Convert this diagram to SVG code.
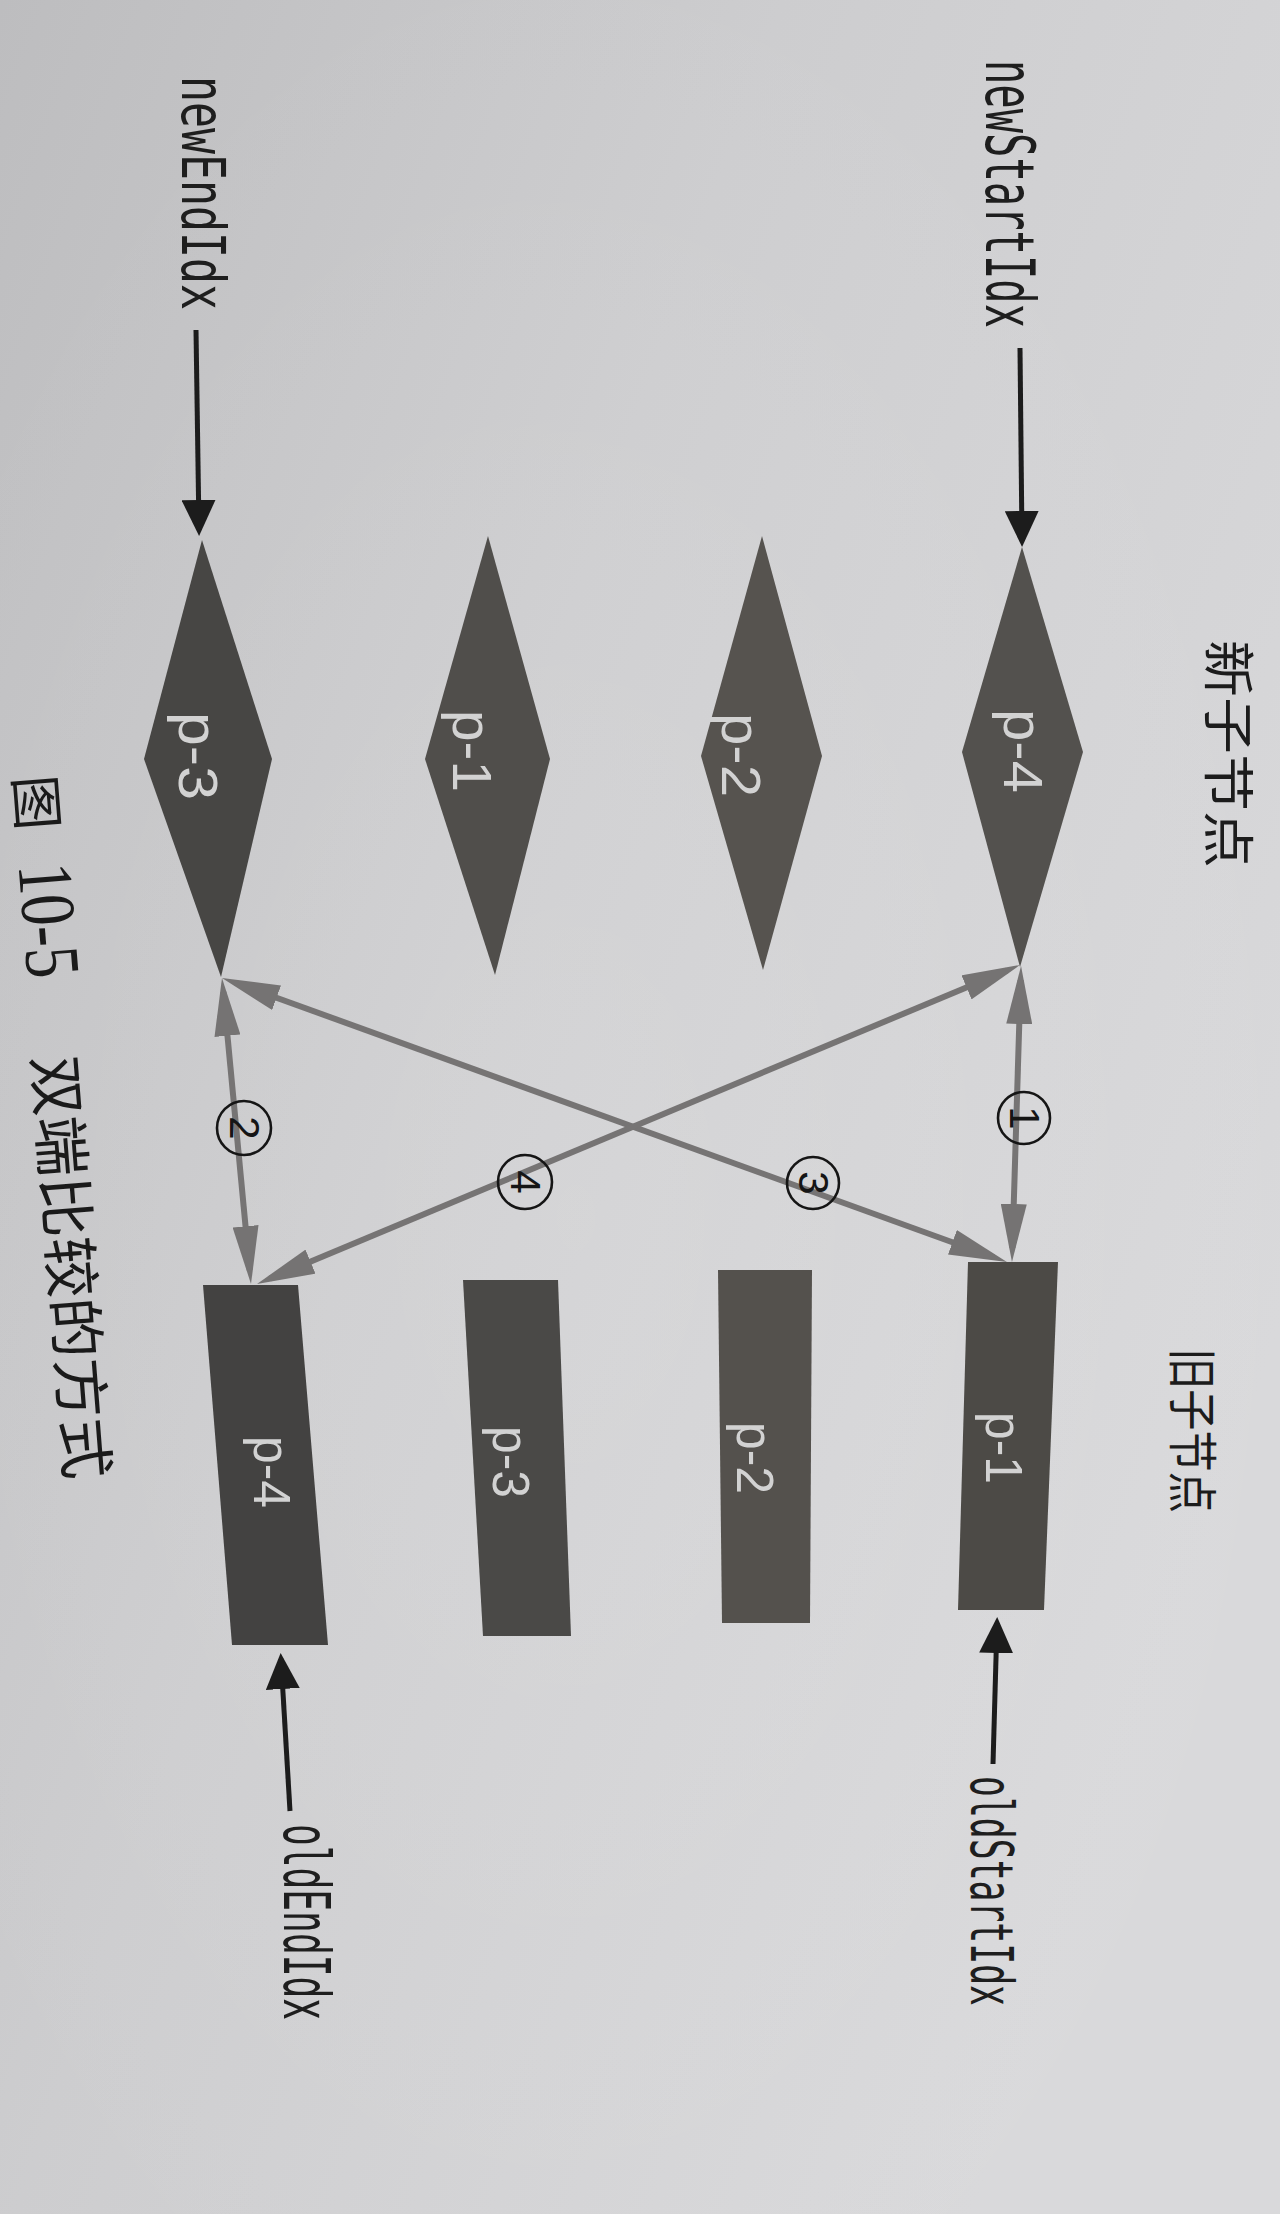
<svg xmlns="http://www.w3.org/2000/svg" width="1280" height="2214" viewBox="0 0 1280 2214">
<defs>
  <linearGradient id="bg" x1="0" y1="0" x2="1" y2="0.6">
    <stop offset="0" stop-color="#bdbdbf"/>
    <stop offset="0.45" stop-color="#cdcdcf"/>
    <stop offset="1" stop-color="#d9d9db"/>
  </linearGradient>
  <radialGradient id="glow" cx="0.45" cy="0.55" r="0.6">
    <stop offset="0" stop-color="#ffffff" stop-opacity="0.12"/>
    <stop offset="1" stop-color="#ffffff" stop-opacity="0"/>
  </radialGradient>
  <marker id="gh" viewBox="0 0 58 26" refX="44" refY="13" markerWidth="58" markerHeight="26" markerUnits="userSpaceOnUse" orient="auto-start-reverse">
    <path d="M0,0 L58,13 L0,26 Z" fill="#757373"/>
  </marker>
  <marker id="bh" viewBox="0 0 36 34" refX="30" refY="17" markerWidth="36" markerHeight="34" markerUnits="userSpaceOnUse" orient="auto">
    <path d="M0,0 L36,17 L0,34 Z" fill="#1c1c1c"/>
  </marker>
  <style>
    .dia { stroke: none; }
    .lbl { font-family: "Liberation Sans", Arial, sans-serif; fill: #d2d2d2; text-anchor: middle; }
    .mono { font-family: "DejaVu Sans Mono", "Liberation Mono", monospace; fill: #1e1e1e; }
    .cjk { font-family: "Noto Sans CJK SC", sans-serif; fill: #1c1c1c; dominant-baseline: central; }
    .cap { font-family: "Noto Sans CJK SC", sans-serif; fill: #1a1a1a; dominant-baseline: central; }
    .capn { font-family: "Liberation Serif", "Times New Roman", serif; fill: #1a1a1a; dominant-baseline: central; }
    .conn { stroke: #767474; stroke-width: 6; fill: none; marker-start: url(#gh); marker-end: url(#gh); }
    .ptr { stroke: #1c1c1c; stroke-width: 5; fill: none; marker-end: url(#bh); }
    .ring { fill: none; stroke: #151515; stroke-width: 2.6; }
    .num { font-family: "Liberation Sans", Arial, sans-serif; font-size: 42px; fill: #151515; text-anchor: middle; dominant-baseline: central; }
  </style>
</defs>

<rect x="0" y="0" width="1280" height="2214" fill="url(#bg)"/>
<rect x="0" y="0" width="1280" height="2214" fill="url(#glow)"/>

<!-- titles -->
<g id="title-new">
  <text class="cjk" font-size="52" textLength="228" lengthAdjust="spacingAndGlyphs" transform="translate(1231,640) rotate(90)">新子节点</text>
</g>
<g id="title-old">
  <text class="cjk" font-size="50" textLength="165" lengthAdjust="spacingAndGlyphs" transform="translate(1196,1348) rotate(90)">旧子节点</text>
</g>

<!-- index labels -->
<g id="label-newStartIdx">
  <text class="mono" font-size="68" textLength="268" lengthAdjust="spacingAndGlyphs" transform="translate(986,60) rotate(90)">newStartIdx</text>
</g>
<g id="label-newEndIdx">
  <text class="mono" font-size="60" textLength="234" lengthAdjust="spacingAndGlyphs" transform="translate(182,76) rotate(90)">newEndIdx</text>
</g>
<g id="label-oldStartIdx">
  <text class="mono" font-size="58" textLength="230" lengthAdjust="spacingAndGlyphs" transform="translate(971,1776) rotate(90)">oldStartIdx</text>
</g>
<g id="label-oldEndIdx">
  <text class="mono" font-size="64" textLength="196" lengthAdjust="spacingAndGlyphs" transform="translate(284,1824) rotate(90)">oldEndIdx</text>
</g>

<!-- new children (diamonds) -->
<g id="new-p4">
  <polygon class="dia" points="1022,547 1083,752 1020,967 962,752" fill="#53514e"/>
  <text class="lbl" font-size="56" textLength="84" lengthAdjust="spacingAndGlyphs" transform="translate(1004,751) rotate(90)">p-4</text>
</g>
<g id="new-p2">
  <polygon class="dia" points="762,536 822,756 763,970 701,756" fill="#56534f"/>
  <text class="lbl" font-size="56" textLength="84" lengthAdjust="spacingAndGlyphs" transform="translate(722,755) rotate(90)">p-2</text>
</g>
<g id="new-p1">
  <polygon class="dia" points="488,536 550,759 495,975 425,759" fill="#504e4b"/>
  <text class="lbl" font-size="56" textLength="82" lengthAdjust="spacingAndGlyphs" transform="translate(453,751) rotate(90)">p-1</text>
</g>
<g id="new-p3">
  <polygon class="dia" points="202,540 272,759 221,977 144,759" fill="#474644"/>
  <text class="lbl" font-size="56" textLength="88" lengthAdjust="spacingAndGlyphs" transform="translate(179,756) rotate(90)">p-3</text>
</g>

<!-- old children (rectangles) -->
<g id="old-p1">
  <polygon class="dia" points="968,1262 1058,1262 1044,1610 958,1610" fill="#4c4a46"/>
  <text class="lbl" font-size="52" textLength="72" lengthAdjust="spacingAndGlyphs" transform="translate(986,1448) rotate(90)">p-1</text>
</g>
<g id="old-p2">
  <polygon class="dia" points="718,1270 812,1270 810,1623 722,1623" fill="#54514d"/>
  <text class="lbl" font-size="52" textLength="72" lengthAdjust="spacingAndGlyphs" transform="translate(737,1458) rotate(90)">p-2</text>
</g>
<g id="old-p3">
  <polygon class="dia" points="463,1280 558,1280 571,1636 483,1636" fill="#4a4947"/>
  <text class="lbl" font-size="52" textLength="72" lengthAdjust="spacingAndGlyphs" transform="translate(493,1462) rotate(90)">p-3</text>
</g>
<g id="old-p4">
  <polygon class="dia" points="203,1285 298,1285 328,1645 232,1645" fill="#434241"/>
  <text class="lbl" font-size="52" textLength="72" lengthAdjust="spacingAndGlyphs" transform="translate(254,1472) rotate(90)">p-4</text>
</g>

<!-- connectors -->
<g id="connectors">
  <line class="ptr" x1="1020" y1="348" x2="1022" y2="541"/>
  <line class="ptr" x1="196" y1="330" x2="199" y2="530"/>
  <line class="ptr" x1="993" y1="1764" x2="997" y2="1623"/>
  <line class="ptr" x1="290" y1="1811" x2="281" y2="1659"/>

  <line class="conn" x1="1020.6" y1="980" x2="1012.4" y2="1248"/>
  <line class="conn" x1="223.3" y1="991.9" x2="249.7" y2="1270.1"/>
  <line class="conn" x1="235.2" y1="982.8" x2="993.8" y2="1257.2"/>
  <line class="conn" x1="1007.1" y1="970.4" x2="269.9" y2="1278.6"/>

  <g id="mark-1">
    <circle class="ring" cx="1024" cy="1118" r="26"/>
    <text class="num" transform="translate(1024,1118) rotate(90)">1</text>
  </g>
  <g id="mark-2">
    <circle class="ring" cx="244" cy="1128" r="27"/>
    <text class="num" transform="translate(244,1128) rotate(90)">2</text>
  </g>
  <g id="mark-3">
    <circle class="ring" cx="813" cy="1183" r="26"/>
    <text class="num" transform="translate(813,1183) rotate(90)">3</text>
  </g>
  <g id="mark-4">
    <circle class="ring" cx="525" cy="1182" r="27"/>
    <text class="num" transform="translate(525,1182) rotate(90)">4</text>
  </g>
</g>

<!-- caption -->
<g id="caption">
  <text class="cap" font-size="54" textLength="55" lengthAdjust="spacingAndGlyphs" transform="translate(38,775) rotate(85.5)">图</text>
  <text class="capn" font-size="78" textLength="115" lengthAdjust="spacingAndGlyphs" transform="translate(45,863) rotate(85.5)">10-5</text>
  <text class="cap" font-size="58" textLength="425" lengthAdjust="spacingAndGlyphs" transform="translate(58,1055) rotate(85.5)">双端比较的方式</text>
</g>
</svg>
